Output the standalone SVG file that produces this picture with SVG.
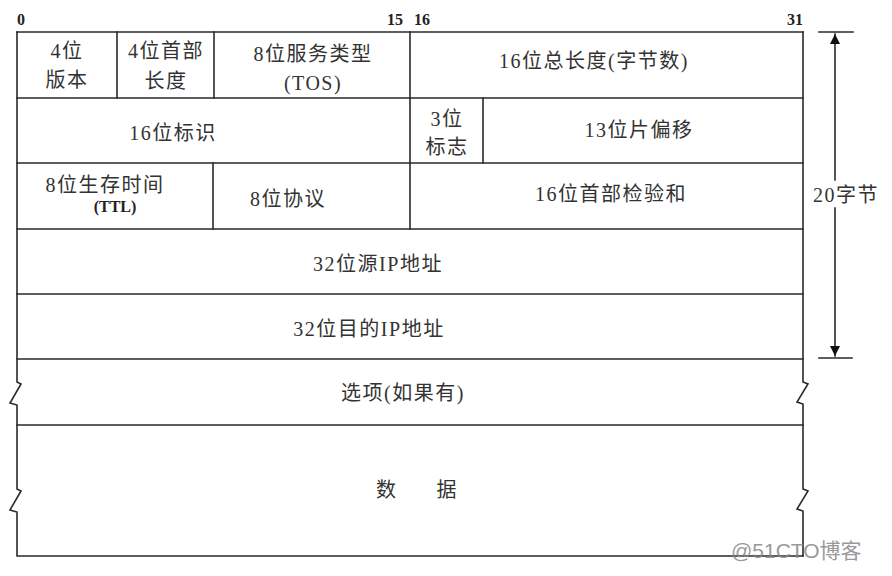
<svg xmlns="http://www.w3.org/2000/svg" width="892" height="576" viewBox="0 0 892 576">
<defs>
<style>
.ln{stroke:#2a2a2a;stroke-width:1.6;fill:none;stroke-linecap:square}
.t{font-family:"Liberation Serif","Noto Sans CJK SC",serif;font-size:20px;letter-spacing:1.5px;fill:#333;text-anchor:middle}
.b{font-family:"Liberation Serif","Noto Sans CJK SC",serif;font-size:16px;font-weight:bold;fill:#222}
.w{font-family:"Liberation Sans","Noto Sans CJK SC",sans-serif;font-size:21px;fill:#888;opacity:0.85}
</style>
<marker id="ah" viewBox="0 0 10 14" refX="10" refY="7" markerWidth="10" markerHeight="14" markerUnits="userSpaceOnUse" orient="auto">
<path d="M0,2 L10,7 L0,12 Z" fill="#111"/>
</marker>
</defs>
<rect width="892" height="576" fill="#fff"/>
<g id="bit-labels">
<text class="b" x="17" y="25">0</text>
<text class="b" x="387" y="25">15</text>
<text class="b" x="414" y="25">16</text>
<text class="b" x="787" y="25">31</text>
</g>
<g id="frame">
<path class="ln" d="M17,32 H803"/>
<path class="ln" d="M17,32 V382 L21,384 L10,403 L17,405 V489 L21,491 L10,510 L17,512 V556 H803"/>
<path class="ln" d="M803,32 V382 L808,384 L797,402 L803,404 V489 L808,491 L797,509 L803,511 V556"/>
<path class="ln" d="M17,98 H803 M17,163 H803 M17,229 H803 M17,294 H803 M17,359 H803 M17,425 H803"/>
</g>
<g id="version"><path class="ln" d="M117,32 V98"/><text class="t" x="67" y="58">4位</text><text class="t" x="67" y="87">版本</text></g>
<g id="ihl"><path class="ln" d="M214,32 V98"/><text class="t" x="166" y="58">4位首部</text><text class="t" x="166" y="88">长度</text></g>
<g id="tos"><path class="ln" d="M410,32 V98"/><text class="t" x="313" y="61">8位服务类型</text><text class="t" x="313" y="90">(TOS)</text></g>
<g id="total-length"><text class="t" x="594" y="68">16位总长度(字节数)</text></g>
<g id="identification"><text class="t" x="173" y="140">16位标识</text></g>
<g id="flags"><path class="ln" d="M410,98 V163 M483,98 V163"/><text class="t" x="447" y="126">3位</text><text class="t" x="447" y="154">标志</text></g>
<g id="fragment-offset"><text class="t" x="639" y="137">13位片偏移</text></g>
<g id="ttl"><path class="ln" d="M213,163 V229"/><text class="t" x="105" y="192">8位生存时间</text><text class="b" x="115" y="212" text-anchor="middle" font-size="15">(TTL)</text></g>
<g id="protocol"><path class="ln" d="M410,163 V229"/><text class="t" x="288" y="206">8位协议</text></g>
<g id="checksum"><text class="t" x="611" y="201">16位首部检验和</text></g>
<g id="src-ip"><text class="t" x="378" y="271">32位源IP地址</text></g>
<g id="dst-ip"><text class="t" x="369" y="336">32位目的IP地址</text></g>
<g id="options"><text class="t" x="403" y="400">选项(如果有)</text></g>
<g id="data"><text class="t" x="417" y="497" xml:space="preserve">数      据</text></g>
<g id="connectors">
<path class="ln" d="M819,32 H853 M819,358 H852"/>
<path class="ln" d="M835,180 V34" marker-end="url(#ah)"/>
<path class="ln" d="M835,208 V356" marker-end="url(#ah)"/>
<text class="t" x="846" y="202">20字节</text>
</g>
<text class="w" x="731" y="558">@51CTO博客</text>
</svg>
